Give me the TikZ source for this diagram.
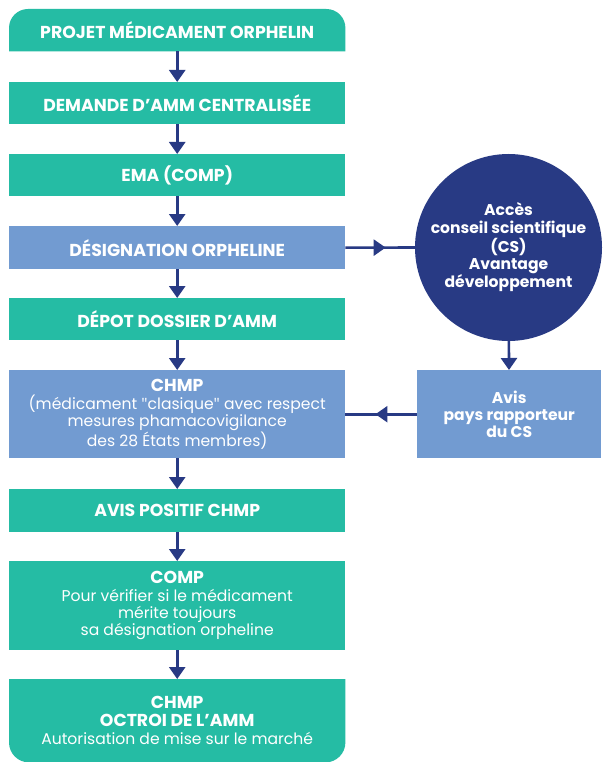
\documentclass[tikz,border=0pt]{standalone}
\usepackage{fontspec}
\setmainfont{Poppins}
\newfontfamily\qfont{Open Sans}
\usetikzlibrary{arrows.meta,backgrounds,decorations.markings}
\definecolor{tealc}{HTML}{25BCA4}
\definecolor{bluec}{HTML}{729BD1}
\definecolor{navyc}{HTML}{283A84}
\newcommand{\capsb}[1]{{\fontsize{17.3}{17.3}\selectfont\bfseries #1}}
\newcommand{\sq}{{\qfont"}}
\begin{document}
\begin{tikzpicture}[x=1pt,y=-1pt,
  box/.style={anchor=north west, minimum width=336pt, inner sep=0pt, text=white, align=center,
    font=\fontsize{15.6}{17.3}\selectfont},
  tbox/.style={box, fill=tealc},
  bbox/.style={box, fill=bluec},
  arr/.style={draw=navyc, line width=2.6pt, -{Triangle[width=16pt,length=12pt]}},
  midarr/.style={draw=navyc, line width=2.6pt, postaction={decorate},
    decoration={markings, mark=at position 0.58 with {\arrow[navyc]{Triangle[width=16pt,length=12pt]}}}},
]
\useasboundingbox (0,0) rectangle (609,762);

\node[box, minimum height=42pt] (b1) at (9,9) {\capsb{PROJET MÉDICAMENT ORPHELIN}};
\node[tbox, minimum height=42pt] (b2) at (9,82) {\capsb{DEMANDE D’AMM CENTRALISÉE}};
\node[tbox, minimum height=42pt] (b3) at (9,154) {\capsb{EMA (COMP)}};
\node[bbox, minimum height=43pt] (b4) at (9,226) {\capsb{DÉSIGNATION ORPHELINE}};
\node[tbox, minimum height=42pt] (b5) at (9,298) {\capsb{DÉPOT DOSSIER D’AMM}};
\node[bbox, minimum height=88pt] (b6) at (9,370) {\capsb{CHMP}\\(médicament \sq clasique\sq{} avec respect\\mesures phamacovigilance\\des 28 États membres)};
\node[tbox, minimum height=43pt] (b7) at (9,489) {\capsb{AVIS POSITIF CHMP}};
\node[tbox, minimum height=89pt] (b8) at (9,561) {\capsb{COMP}\\Pour vérifier si le médicament\\mérite toujours\\sa désignation orpheline};
\node[box, minimum height=83pt, font=\fontsize{15.6}{18}\selectfont] (b9) at (9,679) {\capsb{CHMP}\\\capsb{OCTROI DE L’AMM}\\Autorisation de mise sur le marché};

\node[circle, fill=navyc, minimum size=187pt, inner sep=0pt, text=white, align=center,
  font=\fontsize{15.6}{17.2}\selectfont\bfseries] (cs) at (508.5,247.5)
  {Accès\\conseil scientifique\\(CS)\\Avantage\\développement};
\node[bbox, minimum width=184pt, minimum height=88pt, font=\fontsize{15.6}{17.3}\selectfont\bfseries] (avis) at (417,370)
  {Avis\\pays rapporteur\\du CS};

\begin{scope}[on background layer]
\fill[white] (0,0) rectangle (609,762);
\fill[tealc] (b1.south west) [rounded corners=19pt] -- (b1.north west) -- (b1.north east) [sharp corners] -- (b1.south east) -- cycle;
\fill[tealc] (b9.north east) [rounded corners=20pt] -- (b9.south east) -- (b9.south west) [sharp corners] -- (b9.north west) -- cycle;
\end{scope}

\draw[arr] (b1) -- (b2);
\draw[arr] (b2) -- (b3);
\draw[arr] (b3) -- (b4);
\draw[arr] (b4) -- (b5);
\draw[arr] (b5) -- (b6);
\draw[arr] (b6) -- (b7);
\draw[arr] (b7) -- (b8);
\draw[arr] (b8) -- (b9);
\draw[arr] (cs) -- (avis);
\draw[midarr] (b4.east) -- (cs.west);
\draw[midarr] (avis.west) -- (b6.east);
\end{tikzpicture}
\end{document}
